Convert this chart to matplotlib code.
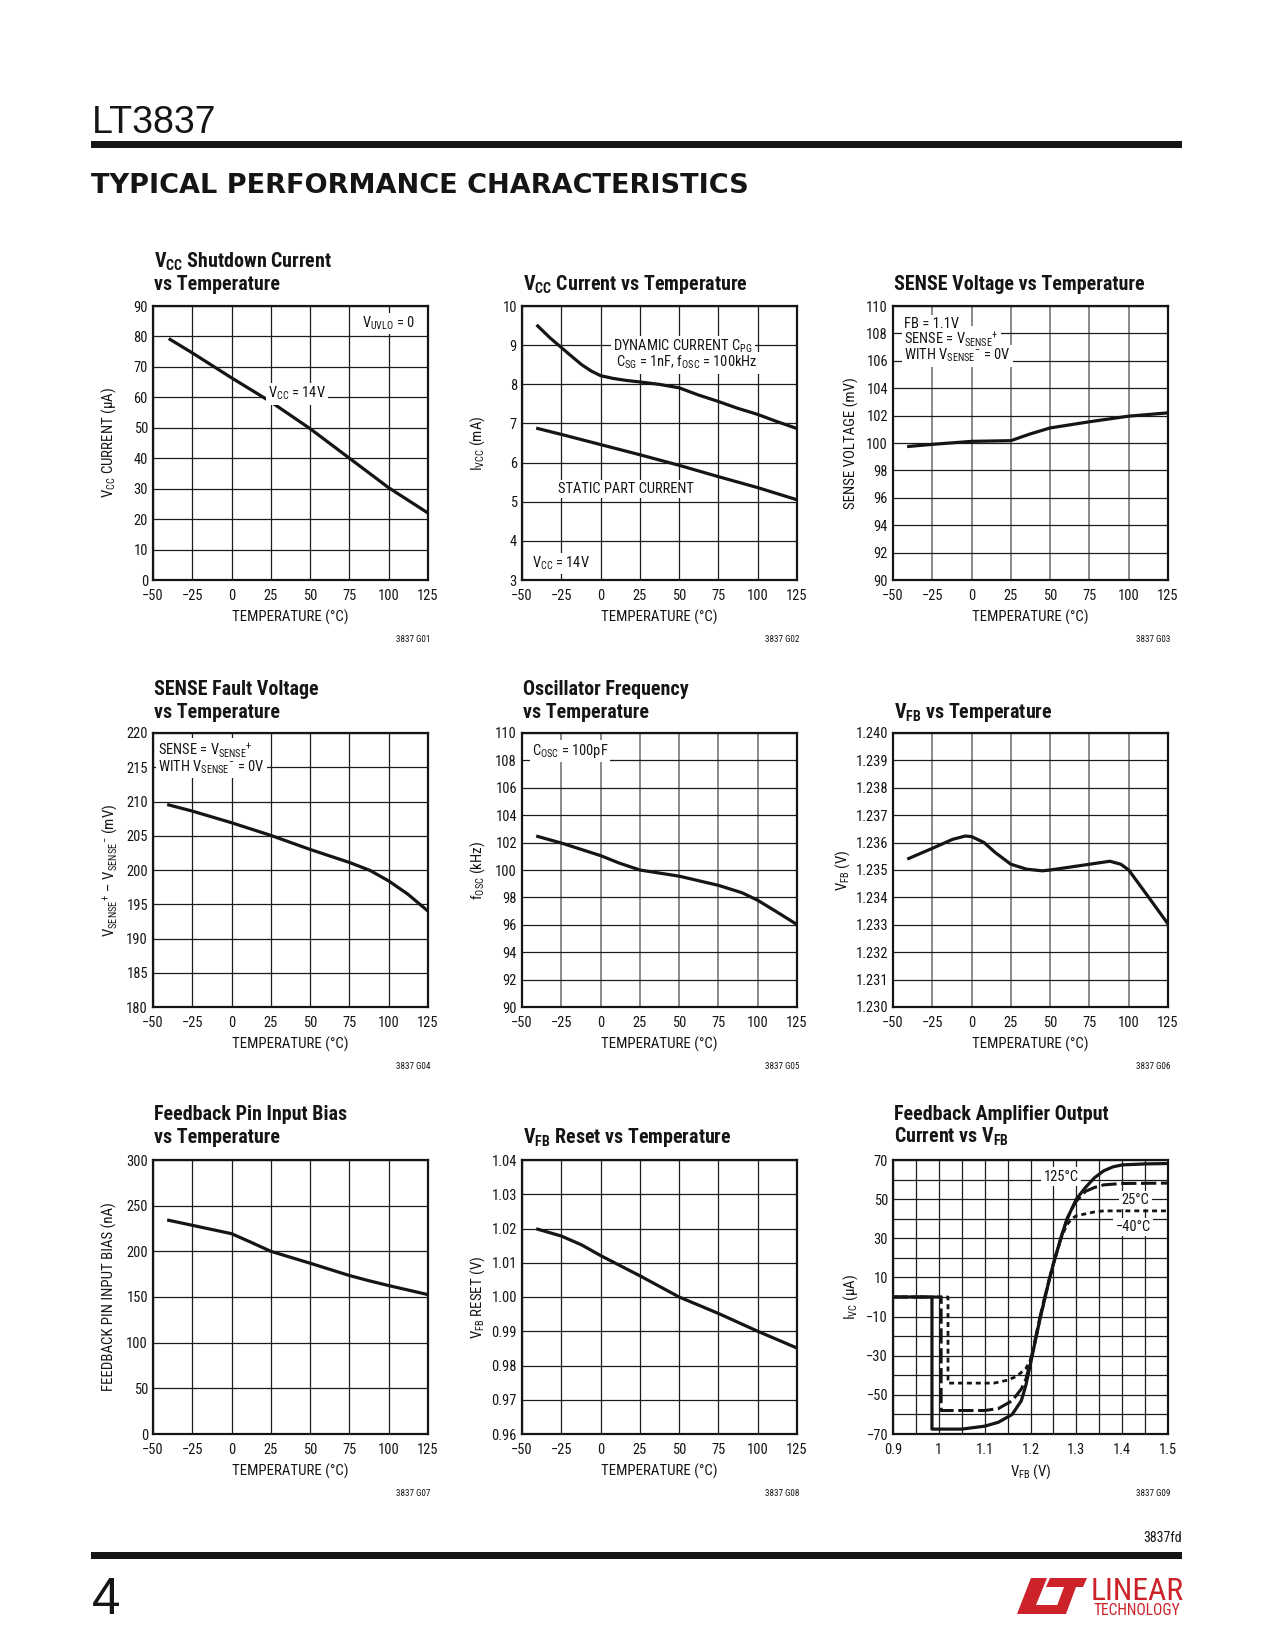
import matplotlib
matplotlib.use('Agg')
import matplotlib.pyplot as plt
from matplotlib import font_manager as fm
from matplotlib.font_manager import FontProperties
from matplotlib.textpath import TextPath
from matplotlib.patches import Rectangle, Polygon

# ------------------------------------------------------------------ data
temp_ticks = [-50, -25, 0, 25, 50, 75, 100, 125]
temp_labels = ['−50', '−25', '0', '25', '50', '75', '100', '125']

# G01  VCC shutdown current
g01_t = [-40, -25, 0, 25, 50, 75, 100, 125]
g01_i = [79.3, 74.6, 66.4, 58.5, 49.7, 40.0, 30.3, 22.0]
g01_yticks = [0, 10, 20, 30, 40, 50, 60, 70, 80, 90]
g01_ylabels = ['0', '10', '20', '30', '40', '50', '60', '70', '80', '90']

# G02  VCC current
g02_dyn_t = [-40, -32, -25, -18, -12, -6, 0, 8, 16, 25, 37, 50, 62, 75, 87, 100, 112, 125]
g02_dyn_i = [9.49, 9.18, 8.94, 8.70, 8.50, 8.34, 8.22, 8.15, 8.10, 8.06, 8.00, 7.91,
             7.73, 7.56, 7.39, 7.23, 7.05, 6.87]
g02_sta_t = [-40, -25, 0, 25, 50, 75, 100, 125]
g02_sta_i = [6.87, 6.72, 6.46, 6.20, 5.93, 5.64, 5.36, 5.05]
g02_yticks = [3, 4, 5, 6, 7, 8, 9, 10]
g02_ylabels = ['3', '4', '5', '6', '7', '8', '9', '10']

# G03  SENSE voltage
g03_t = [-40, -25, 0, 25, 37, 50, 75, 100, 125]
g03_v = [99.75, 99.90, 100.12, 100.17, 100.65, 101.10, 101.55, 101.96, 102.20]
g03_yticks = [90, 92, 94, 96, 98, 100, 102, 104, 106, 108, 110]
g03_ylabels = ['90', '92', '94', '96', '98', '100', '102', '104', '106', '108', '110']

# G04  SENSE fault voltage
g04_t = [-40, -25, 0, 25, 50, 75, 88, 100, 112, 125]
g04_v = [209.5, 208.6, 206.9, 205.05, 203.0, 201.1, 199.95, 198.4, 196.5, 194.0]
g04_yticks = [180, 185, 190, 195, 200, 205, 210, 215, 220]
g04_ylabels = ['180', '185', '190', '195', '200', '205', '210', '215', '220']

# G05  oscillator frequency
g05_t = [-40, -25, 0, 12, 25, 50, 75, 90, 100, 112, 125]
g05_f = [102.45, 101.97, 101.05, 100.5, 100.0, 99.55, 98.88, 98.34, 97.79, 96.95, 96.02]
g05_yticks = [90, 92, 94, 96, 98, 100, 102, 104, 106, 108, 110]
g05_ylabels = ['90', '92', '94', '96', '98', '100', '102', '104', '106', '108', '110']

# G06  VFB vs temperature
g06_t = [-40, -25, -12, -4, 0, 8, 15, 25, 35, 45, 50, 62, 75, 88, 95, 100, 112, 125]
g06_v = [1.23542, 1.23579, 1.23612, 1.23624, 1.23622, 1.23600, 1.23564, 1.23521,
         1.23503, 1.23497, 1.23500, 1.23510, 1.23521, 1.23532, 1.23521, 1.23500,
         1.23406, 1.23303]
g06_yticks = [1.230, 1.231, 1.232, 1.233, 1.234, 1.235, 1.236, 1.237, 1.238, 1.239, 1.240]
g06_ylabels = ['1.230', '1.231', '1.232', '1.233', '1.234', '1.235', '1.236', '1.237',
               '1.238', '1.239', '1.240']

# G07  feedback pin input bias
g07_t = [-40, -25, 0, 12, 25, 50, 75, 87, 100, 125]
g07_i = [234.0, 228.5, 219.3, 210.2, 200.0, 187.0, 173.5, 168.0, 162.5, 152.6]
g07_yticks = [0, 50, 100, 150, 200, 250, 300]
g07_ylabels = ['0', '50', '100', '150', '200', '250', '300']

# G08  VFB reset
g08_t = [-40, -25, -12, 0, 25, 50, 75, 100, 125]
g08_v = [1.0198, 1.0178, 1.0152, 1.0121, 1.0062, 1.0000, 0.9952, 0.9900, 0.9851]
g08_yticks = [0.96, 0.97, 0.98, 0.99, 1.00, 1.01, 1.02, 1.03, 1.04]
g08_ylabels = ['0.96', '0.97', '0.98', '0.99', '1.00', '1.01', '1.02', '1.03', '1.04']

# G09  feedback amplifier output current vs VFB
g09_125_v = [0.90, 0.985, 0.985, 1.05, 1.10, 1.13, 1.16, 1.18, 1.19, 1.20, 1.21, 1.22,
             1.23, 1.24, 1.25, 1.26, 1.27, 1.28, 1.29, 1.30, 1.32, 1.34, 1.36, 1.38,
             1.40, 1.45, 1.50]
g09_125_i = [0, 0, -67.5, -67.5, -66.0, -64.0, -60.0, -53.0, -45.0, -34.0, -23.0, -12.0,
             -2.0, 8.0, 17.0, 25.0, 33.0, 40.0, 45.0, 50.0, 56.0, 61.0, 64.5, 66.5,
             67.5, 68.0, 68.2]
g09_25_v = [0.90, 1.005, 1.005, 1.10, 1.13, 1.16, 1.18, 1.19, 1.20, 1.21, 1.22, 1.23,
            1.24, 1.25, 1.26, 1.27, 1.28, 1.29, 1.30, 1.32, 1.34, 1.36, 1.40, 1.50]
g09_25_i = [0, 0, -58.0, -58.0, -57.0, -53.0, -47.0, -42.0, -33.0, -22.0, -11.0, -1.0,
            8.0, 17.0, 25.0, 33.0, 40.0, 45.0, 49.0, 54.0, 56.0, 57.3, 58.0, 58.2]
g09_m40_v = [0.90, 1.02, 1.02, 1.12, 1.15, 1.17, 1.19, 1.20, 1.21, 1.22, 1.23, 1.24,
             1.25, 1.26, 1.27, 1.28, 1.29, 1.30, 1.32, 1.34, 1.36, 1.50]
g09_m40_i = [0, 0, -44.0, -44.0, -42.5, -40.5, -36.5, -32.0, -23.0, -12.0, -2.0, 8.0,
             17.0, 25.0, 32.0, 37.0, 40.0, 41.5, 42.5, 43.5, 44.0, 44.0]
g09_xticks = [0.9, 1.0, 1.1, 1.2, 1.3, 1.4, 1.5]
g09_xlabels = ['0.9', '1', '1.1', '1.2', '1.3', '1.4', '1.5']
g09_xminor = [0.95, 1.05, 1.15, 1.25, 1.35, 1.45]
g09_yticks = [-70, -50, -30, -10, 10, 30, 50, 70]
g09_ylabels = ['−70', '−50', '−30', '−10', '10', '30', '50', '70']
g09_yminor = [-60, -40, -20, 0, 20, 40, 60]

# ------------------------------------------------------------------ fonts
entries = fm.fontManager.ttflist
names = {f.name for f in entries}
NARROW, STRETCH = None, 'normal'
for n in ['Liberation Sans Narrow', 'Arial Narrow', 'Nimbus Sans Narrow',
          'Roboto Condensed', 'Open Sans Condensed', 'Noto Sans Condensed']:
    if n in names:
        NARROW = n
        break
if NARROW is None:
    cond = {f.name for f in entries if str(f.stretch) in ('condensed', 'semi-condensed')}
    for n in ['Liberation Sans', 'DejaVu Sans', 'Noto Sans', 'Roboto', 'Open Sans']:
        if n in cond:
            NARROW, STRETCH = n, 'condensed'
            break
if NARROW is None:
    NARROW = 'Liberation Sans'


def text_w(s, family, weight='normal', stretch='normal'):
    fp = FontProperties(family=[family, 'DejaVu Sans'], weight=weight, stretch=stretch, size=100)
    return TextPath((0, 0), s, prop=fp).get_extents().width


_REF = 'TEMPERATURE (°C) 0123456789 Shutdown Current vs Temperature'
K_REG = min(1.0, 0.82 * text_w(_REF, 'Liberation Sans') / text_w(_REF, NARROW, 'normal', STRETCH))
K_BOLD = min(1.0, 0.82 * text_w(_REF, 'Liberation Sans', 'bold') /
             text_w(_REF, NARROW, 'bold', STRETCH))

_suffix = ':stretch=condensed' if STRETCH != 'normal' else ''
plt.rcParams.update({
    'font.family': [NARROW, 'DejaVu Sans'],
    'font.stretch': STRETCH,
    'mathtext.fontset': 'custom',
    'mathtext.rm': NARROW + _suffix,
    'mathtext.it': NARROW + ':style=italic' + _suffix,
    'mathtext.bf': NARROW + ':weight=bold' + _suffix,
    'mathtext.sf': NARROW + _suffix,
    'mathtext.default': 'rm',
    'axes.unicode_minus': True,
})

W, H = 1275, 1650
fig = plt.figure(figsize=(W / 100, H / 100), dpi=100)
fig.patch.set_facecolor('white')

INK = '#151515'
GRID = '#1c1c1c'
GRAYGRID = '#808080'
TICK = 11.0 * K_REG
LABEL = 11.3 * K_REG
NOTE = 11.0 * K_REG
TITLE = 14.9 * K_BOLD
SMALL = 6.9 * K_REG
CURVE_LW = 2.3

COLS = [153, 522, 893]
ROWS = [306, 733, 1160]
AW, AH = 275, 274


def fx(x):
    return x / W


def fy(y):
    return 1 - y / H


def make_axes(col, row):
    x0, y0 = COLS[col], ROWS[row]
    return fig.add_axes([x0 / W, 1 - (y0 + AH) / H, AW / W, AH / H])


def style(ax, xlim, xticks, xlabels, ylim, yticks, ylabels, xlabel, ylabel,
          ylab_off=44, vcolor=GRID, xminor=None, yminor=None):
    ax.set_xlim(*xlim)
    ax.set_ylim(*ylim)
    ax.set_xticks(xticks, xlabels)
    ax.set_yticks(yticks, ylabels)
    if xminor:
        ax.set_xticks(xminor, minor=True)
    if yminor:
        ax.set_yticks(yminor, minor=True)
    ax.tick_params(which='both', length=0, colors=INK)
    ax.tick_params(axis='x', pad=6.3, labelsize=TICK)
    ax.tick_params(axis='y', pad=3.6, labelsize=TICK)
    ax.set_axisbelow(True)
    ax.xaxis.grid(True, which='both', color=vcolor,
                  lw=1.3 if vcolor == GRAYGRID else 0.9)
    ax.yaxis.grid(True, which='both', color=GRID, lw=0.9)
    for s in ax.spines.values():
        s.set_linewidth(1.6)
        s.set_color(INK)
    ax.set_xlabel(xlabel, fontsize=LABEL, color=INK)
    ax.xaxis.set_label_coords(0.5, -42 / AH)
    ax.xaxis.label.set_verticalalignment('baseline')
    ax.set_ylabel(ylabel, fontsize=LABEL, color=INK)
    ax.yaxis.set_label_coords(-ylab_off / AW, 0.5)
    ax.yaxis.label.set_verticalalignment('center')


def note(ax, x, y, s, ha='left'):
    # white knock-out box drawn beneath, so stacked lines never clip each other
    ax.text(x, y, s, ha=ha, va='baseline', fontsize=NOTE, color=(1, 1, 1, 0), zorder=2.1,
            bbox=dict(boxstyle='square,pad=0.15', fc='white', ec='none'))
    ax.text(x, y, s, ha=ha, va='baseline', fontsize=NOTE, color=INK, zorder=2.3)


def title(col, baselines, lines):
    for b, s in zip(baselines, lines):
        fig.text(fx(COLS[col] + 1), fy(b), s, fontsize=TITLE, fontweight='bold',
                 va='baseline', ha='left', color=INK)


def code(col, row, s):
    fig.text(fx(COLS[col] + AW + 2), fy(ROWS[row] + AH + 62), s, fontsize=SMALL,
             ha='right', va='baseline', color=INK)


TEMP_XL = 'TEMPERATURE (°C)'
TLIM = (-50, 125)
SENSE_P = r'$\mathrm{V_{SENSE}{}^{+}}$'
SENSE_M = r'$\mathrm{V_{SENSE}{}^{-}}$'

# ------------------------------------------------------------------ header / footer
fig.text(fx(92), fy(133), 'LT3837', fontsize=27, family=['Liberation Sans', 'DejaVu Sans'],
         va='baseline', ha='left', color=INK)
fig.add_artist(Rectangle((fx(91), fy(148)), (1182 - 91) / W, 7 / H,
                         transform=fig.transFigure, color=INK, lw=0))
fig.text(fx(91), fy(193), 'TYPICAL PERFORMANCE CHARACTERISTICS', fontsize=19.5,
         family='DejaVu Sans', fontweight='heavy', va='baseline', ha='left', color=INK)

fig.text(fx(1182), fy(1542), '3837fd', fontsize=10.5 * K_REG, ha='right', va='baseline',
         color=INK)
fig.add_artist(Rectangle((fx(91), fy(1559)), (1182 - 91) / W, 7 / H,
                         transform=fig.transFigure, color=INK, lw=0))
fig.text(fx(92), fy(1614), '4', fontsize=37, family=['Liberation Sans', 'DejaVu Sans'],
         va='baseline', ha='left', color=INK)

RED = '#cc2229'
logo_L = [(1031, 1578), (1047, 1578), (1036, 1605), (1062, 1605), (1058, 1614), (1017, 1614)]
logo_Tbar = [(1050, 1578), (1087, 1578), (1083, 1587), (1046, 1587)]
logo_Tstem = [(1064, 1587), (1076, 1587), (1066, 1614), (1054, 1614)]
for poly in (logo_L, logo_Tbar, logo_Tstem):
    fig.add_artist(Polygon([(fx(a), fy(b)) for a, b in poly], closed=True,
                           transform=fig.transFigure, color=RED, lw=0))
fig.text(fx(1091), fy(1600), 'LINEAR', fontsize=24 * K_REG, color=RED, va='baseline',
         ha='left')
fig.text(fx(1094), fy(1615), 'TECHNOLOGY', fontsize=11.8 * K_REG, color=RED, va='baseline',
         ha='left')

# ------------------------------------------------------------------ G01
ax = make_axes(0, 0)
style(ax, TLIM, temp_ticks, temp_labels, (0, 90), g01_yticks, g01_ylabels,
      TEMP_XL, r'$\mathrm{V_{CC}}$ CURRENT (µA)')
ax.plot(g01_t, g01_i, color=INK, lw=CURVE_LW, solid_capstyle='butt')
note(ax, 100, 82.8, r'$\mathrm{V_{UVLO}}$ = 0', ha='center')
note(ax, 23.2, 59.8, r'$\mathrm{V_{CC}}$ = 14V')
title(0, [268, 290], [r'$\mathbf{V_{CC}}$ Shutdown Current', 'vs Temperature'])
code(0, 0, '3837 G01')

# ------------------------------------------------------------------ G02
ax = make_axes(1, 0)
style(ax, TLIM, temp_ticks, temp_labels, (3, 10), g02_yticks, g02_ylabels,
      TEMP_XL, r'$\mathrm{I_{VCC}}$ (mA)')
ax.plot(g02_dyn_t, g02_dyn_i, color=INK, lw=CURVE_LW)
ax.plot(g02_sta_t, g02_sta_i, color=INK, lw=CURVE_LW)
note(ax, 7.9, 8.85, r'DYNAMIC CURRENT $\mathrm{C_{PG}}$')
note(ax, 9.8, 8.44, r'$\mathrm{C_{SG}}$ = 1nF, $\mathrm{f_{OSC}}$ = 100kHz')
note(ax, 16.2, 5.23, 'STATIC PART CURRENT', ha='center')
note(ax, -43.6, 3.31, r'$\mathrm{V_{CC}}$ = 14V')
title(1, [290], [r'$\mathbf{V_{CC}}$ Current vs Temperature'])
code(1, 0, '3837 G02')

# ------------------------------------------------------------------ G03
ax = make_axes(2, 0)
style(ax, TLIM, temp_ticks, temp_labels, (90, 110), g03_yticks, g03_ylabels,
      TEMP_XL, 'SENSE VOLTAGE (mV)', ylab_off=42, vcolor=GRAYGRID)
ax.plot(g03_t, g03_v, color=INK, lw=CURVE_LW)
note(ax, -43.0, 108.37, 'FB = 1.1V')
note(ax, -43.0, 107.28, 'SENSE = ' + SENSE_P)
note(ax, -43.0, 106.06, 'WITH ' + SENSE_M + ' = 0V')
title(2, [290], ['SENSE Voltage vs Temperature'])
code(2, 0, '3837 G03')

# ------------------------------------------------------------------ G04
ax = make_axes(0, 1)
style(ax, TLIM, temp_ticks, temp_labels, (180, 220), g04_yticks, g04_ylabels,
      TEMP_XL, SENSE_P + ' – ' + SENSE_M + ' (mV)', ylab_off=43)
ax.plot(g04_t, g04_v, color=INK, lw=CURVE_LW)
note(ax, -46.8, 216.8, 'SENSE = ' + SENSE_P)
note(ax, -46.8, 214.37, 'WITH ' + SENSE_M + ' = 0V')
title(0, [695, 718], ['SENSE Fault Voltage', 'vs Temperature'])
code(0, 1, '3837 G04')

# ------------------------------------------------------------------ G05
ax = make_axes(1, 1)
style(ax, TLIM, temp_ticks, temp_labels, (90, 110), g05_yticks, g05_ylabels,
      TEMP_XL, r'$\mathrm{f_{OSC}}$ (kHz)', vcolor=GRAYGRID)
ax.plot(g05_t, g05_f, color=INK, lw=CURVE_LW)
note(ax, -43.8, 108.4, r'$\mathrm{C_{OSC}}$ = 100pF')
title(1, [695, 718], ['Oscillator Frequency', 'vs Temperature'])
code(1, 1, '3837 G05')

# ------------------------------------------------------------------ G06
ax = make_axes(2, 1)
style(ax, TLIM, temp_ticks, temp_labels, (1.230, 1.240), g06_yticks, g06_ylabels,
      TEMP_XL, r'$\mathrm{V_{FB}}$ (V)', ylab_off=50, vcolor=GRAYGRID)
ax.plot(g06_t, g06_v, color=INK, lw=CURVE_LW)
title(2, [718], [r'$\mathbf{V_{FB}}$ vs Temperature'])
code(2, 1, '3837 G06')

# ------------------------------------------------------------------ G07
ax = make_axes(0, 2)
style(ax, TLIM, temp_ticks, temp_labels, (0, 300), g07_yticks, g07_ylabels,
      TEMP_XL, 'FEEDBACK PIN INPUT BIAS (nA)')
ax.plot(g07_t, g07_i, color=INK, lw=CURVE_LW)
title(0, [1120, 1143], ['Feedback Pin Input Bias', 'vs Temperature'])
code(0, 2, '3837 G07')

# ------------------------------------------------------------------ G08
ax = make_axes(1, 2)
style(ax, TLIM, temp_ticks, temp_labels, (0.96, 1.04), g08_yticks, g08_ylabels,
      TEMP_XL, r'$\mathrm{V_{FB}}$ RESET (V)')
ax.plot(g08_t, g08_v, color=INK, lw=CURVE_LW)
title(1, [1143], [r'$\mathbf{V_{FB}}$ Reset vs Temperature'])
code(1, 2, '3837 G08')

# ------------------------------------------------------------------ G09
ax = make_axes(2, 2)
style(ax, (0.9, 1.5), g09_xticks, g09_xlabels, (-70, 70), g09_yticks, g09_ylabels,
      r'$\mathrm{V_{FB}}$ (V)', r'$\mathrm{I_{VC}}$ (µA)', ylab_off=42,
      xminor=g09_xminor, yminor=g09_yminor)
ax.plot(g09_125_v, g09_125_i, color=INK, lw=CURVE_LW)
ax.plot(g09_25_v, g09_25_i, color=INK, lw=2.2, linestyle=(0, (5, 1.5)))
ax.plot(g09_m40_v, g09_m40_i, color=INK, lw=2.0, linestyle=(0, (1.8, 1.4)))
note(ax, 1.2665, 59.5, '125°C', ha='center')
note(ax, 1.429, 47.5, '25°C', ha='center')
note(ax, 1.4236, 33.7, '−40°C', ha='center')
title(2, [1120, 1143], ['Feedback Amplifier Output', r'Current vs $\mathbf{V_{FB}}$'])
code(2, 2, '3837 G09')

fig.savefig('out.png', dpi=100, facecolor='white')
